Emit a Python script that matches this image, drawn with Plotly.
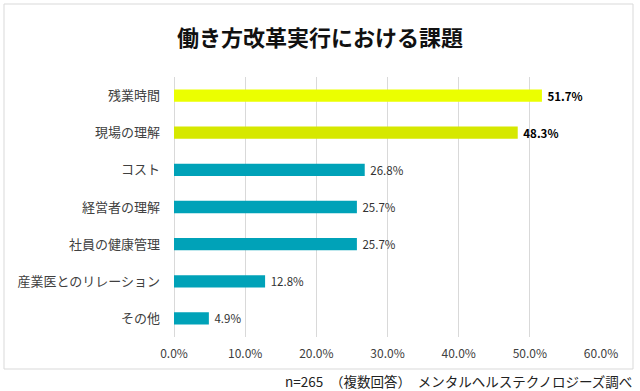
import plotly.graph_objects as go

categories = ["残業時間", "現場の理解", "コスト", "経営者の理解", "社員の健康管理", "産業医とのリレーション", "その他"]
values = [51.7, 48.3, 26.8, 25.7, 25.7, 12.8, 4.9]
bar_colors = ["#EBFF00", "#D6E800", "#00A2B8", "#00A2B8", "#00A2B8", "#00A2B8", "#00A2B8"]
bold_flags = [True, True, False, False, False, False, False]
tick_vals = [0, 10, 20, 30, 40, 50, 60]
tick_text = ["0.0%", "10.0%", "20.0%", "30.0%", "40.0%", "50.0%", "60.0%"]
title_text = "働き方改革実行における課題"
footer_text = "n=265　（複数回答）　メンタルヘルステクノロジーズ調べ"

labels = [(f" <b>{v:.1f}%</b>" if b else f" {v:.1f}%") for v, b in zip(values, bold_flags)]
label_colors = ["#000000" if b else "#333333" for b in bold_flags]

FONT = "Noto Sans CJK JP"

fig = go.Figure(go.Bar(
    x=values, y=categories, orientation="h",
    marker=dict(color=bar_colors, line=dict(width=0)),
    width=0.33,
    text=labels, textposition="outside", constraintext="none",
    textfont=dict(family=FONT, size=11.5, color=label_colors),
    cliponaxis=False,
))

fig.update_layout(
    width=640, height=391,
    margin=dict(l=174, r=39, t=77, b=54, autoexpand=False),
    paper_bgcolor="white", plot_bgcolor="white",
    showlegend=False,
    font=dict(family=FONT, color="#404040"),
    title=dict(text=f"<b>{title_text}</b>", x=0.5, xanchor="center", y=0.902, yanchor="middle",
               font=dict(family=FONT, size=22, color="#111111")),
    xaxis=dict(range=[0, 60], tickvals=tick_vals, ticktext=tick_text,
               showgrid=True, gridcolor="#D9D9D9", gridwidth=1,
               zeroline=True, zerolinecolor="#D9D9D9", zerolinewidth=1,
               showline=False, ticks="", tickfont=dict(family=FONT, size=12, color="#404040"),
               ticklabelstandoff=8),
    yaxis=dict(autorange="reversed", showgrid=False, zeroline=False, showline=False,
               ticks="", tickfont=dict(family=FONT, size=13, color="#404040"),
               ticklabelstandoff=13),
    shapes=[dict(type="rect", xref="paper", yref="paper",
                 x0=-170/427, x1=459/427, y0=-32/260, y1=(260+73)/260,
                 line=dict(color="#D9D9D9", width=1), fillcolor="rgba(0,0,0,0)", layer="below")],
    annotations=[dict(text=footer_text, xref="paper", yref="paper",
                      x=460/427, y=-44/260, xanchor="right", yanchor="middle", showarrow=False,
                      font=dict(family=FONT, size=13.5, color="#222222"))],
)

fig.write_html("out.html", config={"displayModeBar": False},
               post_script="document.body.style.margin='0px';")
